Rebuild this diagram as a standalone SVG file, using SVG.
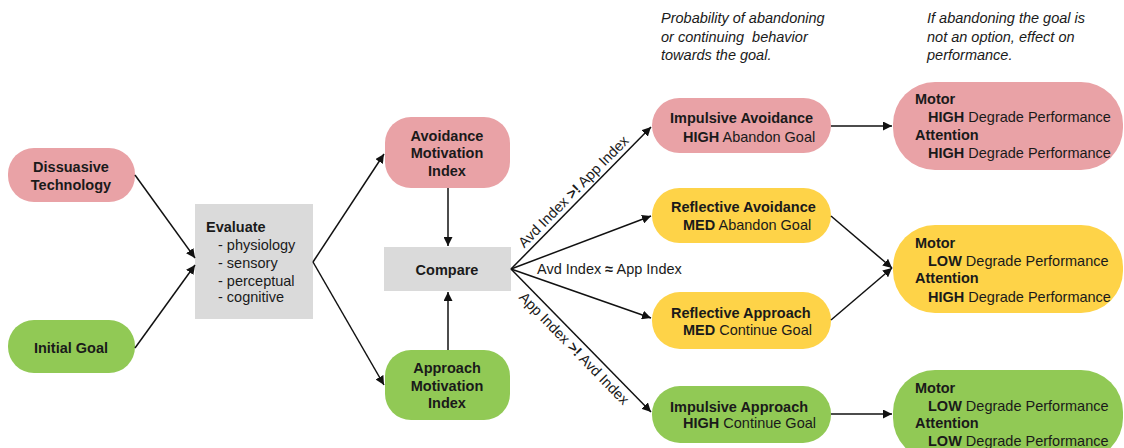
<svg xmlns="http://www.w3.org/2000/svg" width="1124" height="448" viewBox="0 0 1124 448">
<defs>
<marker id="ah" viewBox="0 0 10 10" refX="10" refY="5" markerWidth="9" markerHeight="9" markerUnits="userSpaceOnUse" orient="auto"><path d="M0,0 L10,5 L0,10 z" fill="#111"/></marker>
<style>
text{font-family:"Liberation Sans",Arial,sans-serif;font-size:14.5px;fill:#1a1a1a}
.b{font-weight:bold}
.c{text-anchor:middle}
.i{font-style:italic;font-size:14.5px;white-space:pre}
.lbl{font-size:14.5px}
.pink{fill:#E9A2A6}
.green{fill:#91C955}
.yellow{fill:#FED348}
.gray{fill:#DADADA}
.con line,.con path{stroke:#111;stroke-width:1.5;fill:none;marker-end:url(#ah)}
</style>
</defs>
<rect width="1124" height="448" fill="#fff"/>

<g id="note1">
<text class="i" x="661" y="23">Probability of abandoning</text>
<text class="i" x="661" y="42">or continuing  behavior</text>
<text class="i" x="661" y="60">towards the goal.</text>
</g>
<g id="note2">
<text class="i" x="927" y="23">If abandoning the goal is</text>
<text class="i" x="927" y="42">not an option, effect on</text>
<text class="i" x="927" y="60">performance.</text>
</g>

<g id="dissuasive">
<rect class="pink" x="8" y="148" width="127" height="54" rx="26"/>
<text class="b c" x="71" y="172">Dissuasive</text>
<text class="b c" x="71" y="190">Technology</text>
</g>
<g id="initial-goal">
<rect class="green" x="8" y="320" width="127" height="53" rx="26"/>
<text class="b c" x="71" y="353">Initial Goal</text>
</g>
<g id="evaluate">
<rect class="gray" x="195" y="204" width="118" height="115"/>
<text class="b" x="206" y="232">Evaluate</text>
<text x="218" y="250">- physiology</text>
<text x="218" y="268">- sensory</text>
<text x="218" y="286">- perceptual</text>
<text x="218" y="302">- cognitive</text>
</g>
<g id="avoidance">
<rect class="pink" x="385" y="117" width="125" height="71" rx="26"/>
<text class="b c" x="447" y="141">Avoidance</text>
<text class="b c" x="447" y="158">Motivation</text>
<text class="b c" x="447" y="176">Index</text>
</g>
<g id="compare">
<rect class="gray" x="384" y="247" width="127" height="44"/>
<text class="b c" x="447" y="275">Compare</text>
</g>
<g id="approach">
<rect class="green" x="385" y="350" width="125" height="70" rx="26"/>
<text class="b c" x="447" y="373">Approach</text>
<text class="b c" x="447" y="391">Motivation</text>
<text class="b c" x="447" y="408">Index</text>
</g>

<g id="impulsive-avoidance">
<rect class="pink" x="652" y="98" width="179" height="55" rx="27.5"/>
<text class="b" x="670" y="123">Impulsive Avoidance</text>
<text x="683" y="142"><tspan class="b">HIGH</tspan>  Abandon Goal</text>
</g>
<g id="reflective-avoidance">
<rect class="yellow" x="652" y="188" width="179" height="55" rx="27.5"/>
<text class="b" x="671" y="212">Reflective Avoidance</text>
<text x="683" y="230"><tspan class="b">MED</tspan> Abandon Goal</text>
</g>
<g id="reflective-approach">
<rect class="yellow" x="652" y="292" width="179" height="57" rx="28"/>
<text class="b" x="671" y="318">Reflective Approach</text>
<text x="683" y="335"><tspan class="b">MED</tspan> Continue Goal</text>
</g>
<g id="impulsive-approach">
<rect class="green" x="652" y="386" width="179" height="57" rx="28"/>
<text class="b" x="670" y="412">Impulsive Approach</text>
<text x="683" y="428"><tspan class="b">HIGH</tspan>  Continue Goal</text>
</g>

<g id="perf-high">
<rect class="pink" x="893" y="82" width="230" height="88" rx="42"/>
<text class="b" x="915" y="104">Motor</text>
<text x="928" y="122"><tspan class="b">HIGH</tspan>  Degrade Performance</text>
<text class="b" x="915" y="140">Attention</text>
<text x="928" y="158"><tspan class="b">HIGH</tspan>  Degrade Performance</text>
</g>
<g id="perf-mixed">
<rect class="yellow" x="893" y="225" width="230" height="88" rx="42"/>
<text class="b" x="915" y="248">Motor</text>
<text x="928" y="266"><tspan class="b">LOW</tspan> Degrade Performance</text>
<text class="b" x="915" y="283">Attention</text>
<text x="928" y="302"><tspan class="b">HIGH</tspan>  Degrade Performance</text>
</g>
<g id="perf-low">
<rect class="green" x="893" y="370" width="230" height="90" rx="42"/>
<text class="b" x="915" y="393">Motor</text>
<text x="928" y="411"><tspan class="b">LOW</tspan> Degrade Performance</text>
<text class="b" x="915" y="428">Attention</text>
<text x="928" y="446"><tspan class="b">LOW</tspan> Degrade Performance</text>
</g>

<g id="connectors" class="con">
<line x1="135" y1="175" x2="195" y2="258"/>
<line x1="135" y1="348" x2="195" y2="265"/>
<line x1="313" y1="262" x2="384" y2="154"/>
<line x1="313" y1="262" x2="384" y2="385"/>
<line x1="448" y1="188" x2="448" y2="246"/>
<line x1="448" y1="350" x2="448" y2="292"/>
<line x1="511" y1="269" x2="651" y2="127"/>
<line x1="511" y1="269" x2="651" y2="216"/>
<line x1="511" y1="269" x2="651" y2="318"/>
<line x1="511" y1="269" x2="651" y2="412"/>
<line x1="831" y1="126" x2="892" y2="126"/>
<line x1="831" y1="216" x2="892" y2="268"/>
<line x1="831" y1="320" x2="892" y2="268"/>
<line x1="831" y1="414" x2="892" y2="414"/>
</g>
<g id="connector-labels">
<text class="lbl" transform="translate(511,269) rotate(-45.4)" x="24" y="-5">Avd Index <tspan class="b">&gt;!</tspan> App Index</text>
<text class="lbl" x="537" y="274">Avd Index <tspan class="b">≈</tspan> App Index</text>
<text class="lbl" transform="translate(511,269) rotate(45.8)" x="26" y="15">App Index <tspan class="b">&gt;!</tspan> Avd Index</text>
</g>
</svg>
